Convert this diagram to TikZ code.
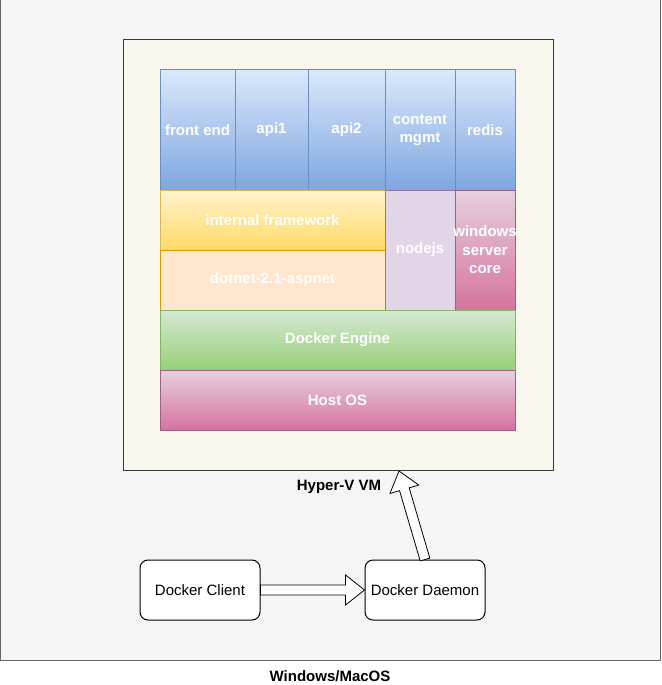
\documentclass[tikz,border=0pt]{standalone}
\usepackage{fontspec}
\setmainfont{Liberation Sans}
\usetikzlibrary{calc}

\definecolor{hostfill}{HTML}{F5F5F5}
\definecolor{hostline}{HTML}{666666}
\definecolor{vmfill}{HTML}{F9F7ED}
\definecolor{vmline}{HTML}{36393D}
\definecolor{blueA}{HTML}{DAE8FC}
\definecolor{blueB}{HTML}{7EA6E0}
\definecolor{blueL}{HTML}{6C8EBF}
\definecolor{yellowA}{HTML}{FFF2CC}
\definecolor{yellowB}{HTML}{FFD966}
\definecolor{yellowL}{HTML}{D6B656}
\definecolor{orangeF}{HTML}{FFE6CC}
\definecolor{orangeL}{HTML}{D79B00}
\definecolor{purpleF}{HTML}{E1D5E7}
\definecolor{purpleL}{HTML}{9673A6}
\definecolor{pinkA}{HTML}{E6D0DE}
\definecolor{pinkB}{HTML}{D5739D}
\definecolor{pinkL}{HTML}{996185}
\definecolor{greenA}{HTML}{D5E8D4}
\definecolor{greenB}{HTML}{97D077}
\definecolor{greenL}{HTML}{82B366}

% centre a line that may stick out of a narrow box
\newcommand{\narrowline}[1]{\makebox[50pt]{#1}}

\tikzset{
  layer/.style={rectangle, line width=1pt, inner sep=0pt, align=center,
    text=white, font=\fontsize{15}{18.5}\selectfont\bfseries},
  app/.style={layer, draw=blueL, top color=blueA, bottom color=blueB},
  framework/.style={layer, draw=yellowL, top color=yellowA, bottom color=yellowB},
  runtime/.style={layer, draw=orangeL, fill=orangeF},
  nodebox/.style={layer, draw=purpleL, fill=purpleF},
  pinkbox/.style={layer, draw=pinkL, top color=pinkA, bottom color=pinkB},
  engine/.style={layer, draw=greenL, top color=greenA, bottom color=greenB},
  docker/.style={rectangle, draw=black, fill=white, line width=1pt,
    rounded corners=8pt, minimum width=120pt, minimum height=60pt,
    font=\fontsize{15}{18}\selectfont},
  caption/.style={font=\fontsize{15}{18}\selectfont\bfseries},
  blockarrow/.style={draw=black, fill=white, line width=0.8pt, to path={
    let \p1=(\tikztostart), \p2=(\tikztotarget),
        \p3=($(\p2)!19pt!(\p1)$) in
    ($(\p1)!5pt!90:(\p2)$) -- ($(\p3)!5pt!90:(\p2)$) -- ($(\p3)!15pt!90:(\p2)$)
    -- (\p2) -- ($(\p3)!15pt!-90:(\p2)$) -- ($(\p3)!5pt!-90:(\p2)$)
    -- ($(\p1)!5pt!-90:(\p2)$) -- cycle}},
}

\begin{document}
\begin{tikzpicture}[x=1pt,y=-1pt]
  \useasboundingbox (0,0) rectangle (661,685);

  % host machine and VM
  \node[rectangle, draw=hostline, fill=hostfill, line width=1pt,
        minimum width=660pt, minimum height=660pt] (host) at (330,330) {};
  \node[rectangle, draw=vmline, fill=vmfill, line width=1pt,
        minimum width=430pt, minimum height=430pt] (vm) at (338,255) {};

  % applications
  \node[app, minimum width=75pt, minimum height=120pt] (frontend) at (197.5,130) {front end};
  \node[app, minimum width=73pt, minimum height=120pt] (api1) at (271.5,130) {api1};
  \node[app, minimum width=77pt, minimum height=120pt] (api2) at (346.5,130) {api2};
  \node[app, minimum width=70pt, minimum height=120pt] (content) at (420,130) {content\\mgmt};
  \node[app, minimum width=60pt, minimum height=120pt] (redis) at (485,130) {redis};

  % runtimes
  \node[framework, minimum width=225pt, minimum height=60pt] (framework) at (272.5,220) {internal framework};
  \node[runtime, minimum width=225pt, minimum height=60pt] (dotnet) at (272.5,280) {dotnet-2.1-aspnet};
  \node[nodebox, minimum width=70pt, minimum height=120pt] (nodejs) at (420,250) {nodejs};
  \node[pinkbox, minimum width=60pt, minimum height=120pt] (wincore) at (485,250)
    {\narrowline{windows}\\\narrowline{server}\\\narrowline{core}};

  % engine and OS
  \node[engine, minimum width=355pt, minimum height=60pt] (engine) at (337.5,340) {Docker Engine};
  \node[pinkbox, minimum width=355pt, minimum height=60pt] (hostos) at (337.5,400) {Host OS};

  % client side
  \node[docker] (client) at (200,590) {Docker Client};
  \node[docker] (daemon) at (425,590) {Docker Daemon};
  \coordinate (vmin) at (399,471);

  \draw[blockarrow] (client.east) to (daemon.west);
  \draw[blockarrow] (daemon.north) to (vmin);

  \node[caption] (vmlabel) at (339,487) {Hyper-V VM};
  \node[caption] (hostlabel) at (330,676) {Windows/MacOS};
\end{tikzpicture}
\end{document}
